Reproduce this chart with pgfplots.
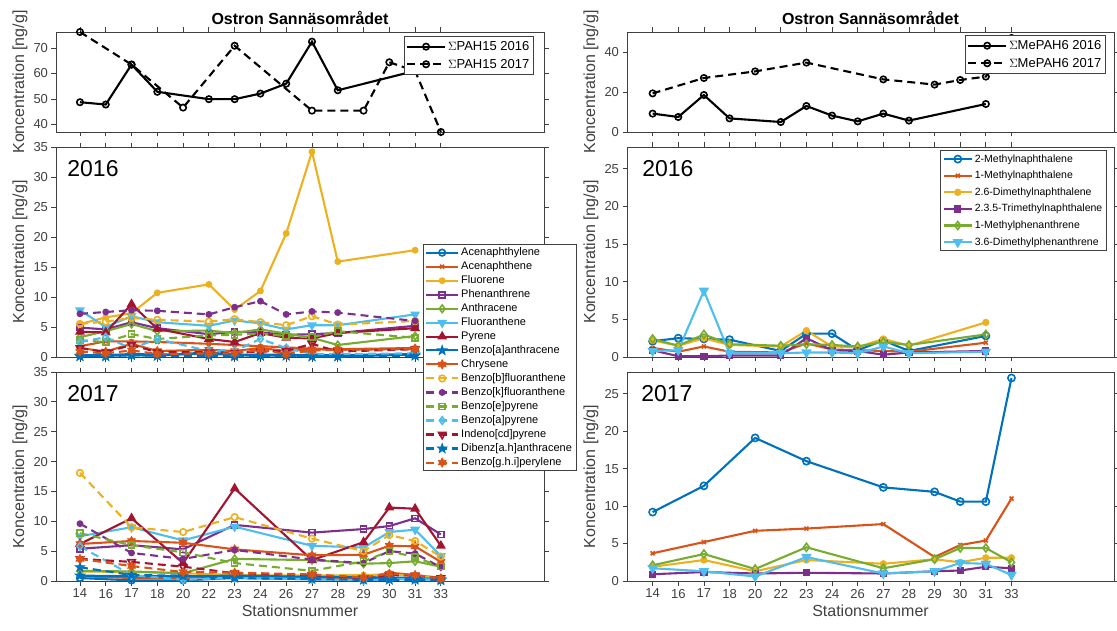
\documentclass[border=0pt]{standalone}
\usepackage{pgfplots}
\pgfplotsset{compat=1.18}
\usepackage{pgfplotstable}
\usepackage{fontspec}
\setmainfont{Liberation Sans}
\usetikzlibrary{plotmarks}

\definecolor{c1}{HTML}{0072BD}
\definecolor{c2}{HTML}{D95319}
\definecolor{c3}{HTML}{EDB120}
\definecolor{c4}{HTML}{7E2F8E}
\definecolor{c5}{HTML}{77AC30}
\definecolor{c6}{HTML}{4DBEEE}
\definecolor{c7}{HTML}{A2142F}
\definecolor{axc}{HTML}{404040}

\tikzset{mo/.style={solid, line width=1.6pt}, mot/.style={solid, line width=0.8pt}}

\pgfdeclareplotmark{pent}{%
  \pgfpathmoveto{\pgfpointpolar{90}{\pgfplotmarksize}}%
  \pgfpathlineto{\pgfpointpolar{126}{0.4\pgfplotmarksize}}%
  \pgfpathlineto{\pgfpointpolar{162}{\pgfplotmarksize}}%
  \pgfpathlineto{\pgfpointpolar{198}{0.4\pgfplotmarksize}}%
  \pgfpathlineto{\pgfpointpolar{234}{\pgfplotmarksize}}%
  \pgfpathlineto{\pgfpointpolar{270}{0.4\pgfplotmarksize}}%
  \pgfpathlineto{\pgfpointpolar{306}{\pgfplotmarksize}}%
  \pgfpathlineto{\pgfpointpolar{342}{0.4\pgfplotmarksize}}%
  \pgfpathlineto{\pgfpointpolar{18}{\pgfplotmarksize}}%
  \pgfpathlineto{\pgfpointpolar{54}{0.4\pgfplotmarksize}}%
  \pgfpathclose\pgfusepathqfillstroke}
\pgfdeclareplotmark{hexa}{%
  \pgfpathmoveto{\pgfpointpolar{90}{\pgfplotmarksize}}%
  \pgfpathlineto{\pgfpointpolar{120}{0.577\pgfplotmarksize}}%
  \pgfpathlineto{\pgfpointpolar{150}{\pgfplotmarksize}}%
  \pgfpathlineto{\pgfpointpolar{180}{0.577\pgfplotmarksize}}%
  \pgfpathlineto{\pgfpointpolar{210}{\pgfplotmarksize}}%
  \pgfpathlineto{\pgfpointpolar{240}{0.577\pgfplotmarksize}}%
  \pgfpathlineto{\pgfpointpolar{270}{\pgfplotmarksize}}%
  \pgfpathlineto{\pgfpointpolar{300}{0.577\pgfplotmarksize}}%
  \pgfpathlineto{\pgfpointpolar{330}{\pgfplotmarksize}}%
  \pgfpathlineto{\pgfpointpolar{0}{0.577\pgfplotmarksize}}%
  \pgfpathlineto{\pgfpointpolar{30}{\pgfplotmarksize}}%
  \pgfpathlineto{\pgfpointpolar{60}{0.577\pgfplotmarksize}}%
  \pgfpathclose\pgfusepathqfillstroke}

% ---------------- data ----------------
% x = station index: 0=14,1=16,2=17,3=18,4=20,5=22,6=23,7=24,8=26,9=27,10=28,11=29,12=30,13=31,14=33
\pgfplotstableread{
x  s1  s2  s3   s4   s5  s6  s7  s8  s9  s10 s11 s12 s13 s14 s15 s16
0  0.3 1.8 5.5  4.9  3.3 7.8 4.2 0.1 1.5 5.5 7.2 2.8 2.5 1.5 0.2 0.9
1  0.3 2.6 6.6  4.6  4.3 5.0 4.1 0.2 0.9 5.9 7.5 2.5 3.3 0.8 0.1 0.6
2  0.5 2.6 7.3  5.8  5.5 6.8 8.8 0.3 2.2 6.5 7.8 3.8 1.4 2.0 0.3 1.1
3  0.4 2.5 10.7 4.8  4.3 5.8 4.7 0.2 1.0 6.2 7.7 3.0 3.0 0.8 0.2 0.5
5  0.5 2.2 12.1 3.8  4.4 5.2 3.0 0.8 1.2 5.9 7.1 3.6 1.0 0.8 0.2 0.6
6  0.4 2.0 7.9  4.2  4.0 6.1 2.5 0.3 1.0 6.3 8.3 3.7 1.0 0.7 0.1 0.6
7  0.4 1.8 11.0 4.1  4.6 5.6 4.0 0.2 1.5 5.8 9.3 3.9 3.0 0.9 0.2 1.2
8  0.4 1.6 20.6 3.7  3.9 4.6 3.2 0.3 1.0 5.3 7.1 3.5 1.5 1.0 0.2 0.5
9  0.3 1.4 34.2 3.8  3.2 5.3 3.1 0.1 1.3 6.8 7.6 3.3 0.5 2.2 0.1 1.1
10 0.3 1.3 15.9 4.0  2.0 5.3 4.0 0.1 1.2 5.4 7.4 4.3 0.5 0.9 0.1 1.2
13 0.5 1.5 17.8 5.2  3.5 7.1 4.8 0.4 1.4 6.0 6.0 3.2 0.6 1.3 0.2 1.3
}\Lsixteen
\pgfplotstableread{
x  s1  s2  s3  s4   s5  s6  s7   s8  s9  s10  s11 s12 s13 s14 s15 s16
0  0.5 0.8 1.6 5.4  1.7 7.5 6.2  0.9 6.2 18.1 9.6 8.0 5.8 3.7 2.3 3.7
2  0.1 0.5 1.5 6.0  1.6 9.0 10.5 0.8 6.7 9.0  4.7 6.0 1.0 3.2 1.0 2.5
4  0.1 0.5 1.3 5.3  1.3 6.8 3.0  0.8 6.4 8.2  3.7 4.8 0.2 2.4 0.9 1.5
6  0.5 0.9 1.0 9.4  3.7 9.1 15.5 0.9 5.3 10.7 5.2 3.0 0.5 1.3 0.5 1.4
9  0.3 0.6 0.9 8.1  3.5 5.9 3.5  0.7 4.3 7.1  3.6 1.7 0.3 1.0 0.3 1.1
11 0.3 0.5 1.0 8.7  2.9 5.6 6.5  0.6 4.4 5.0  3.0 3.3 0.1 0.5 0.2 0.6
12 0.4 1.4 1.1 9.2  3.0 8.2 12.3 0.6 5.9 7.7  5.0 5.0 0.3 1.0 0.2 1.2
13 0.4 1.0 0.9 10.5 3.3 8.6 12.1 0.5 5.8 6.7  4.6 4.0 0.3 0.9 0.2 1.0
14 0.2 0.5 0.6 7.8  2.4 4.2 5.9  0.3 3.2 4.1  2.3 2.4 0.2 0.5 0.1 0.4
}\Lseventeen
\pgfplotstableread{
x  r1  r2  r3  r4  r5  r6
0  2.1 1.2 2.2 0.9 2.4 0.8
1  2.5 0.7 1.5 0.1 1.5 0.9
2  2.4 1.4 2.5 0.1 3.0 8.8
3  2.3 0.7 1.6 0.2 1.7 0.5
5  0.8 0.6 1.4 0.2 1.5 0.5
6  3.1 1.8 3.5 2.5 1.7 0.6
7  3.1 1.0 1.4 0.9 1.6 0.6
8  0.9 0.9 1.3 0.8 1.4 0.5
9  2.2 0.8 2.4 0.3 2.0 1.4
10 0.8 0.7 1.5 0.6 1.6 0.5
13 2.8 1.9 4.6 0.8 3.0 0.7
}\Rsixteen
\pgfplotstableread{
x  r1   r2   r3  r4  r5  r6
0  9.2  3.7  1.9 0.9 2.1 1.7
2  12.7 5.2  2.8 1.2 3.6 1.3
4  19.1 6.7  1.3 1.0 1.6 0.6
6  16.0 7.0  2.8 1.1 4.5 3.2
9  12.5 7.6  2.3 1.0 1.7 1.0
11 11.9 3.2  2.9 1.3 2.9 1.3
12 10.6 4.8  2.5 1.4 4.4 2.4
13 10.6 5.4  3.1 1.9 4.4 2.3
14 27.1 11.0 3.1 1.7 2.5 0.8
}\Rseventeen
\pgfplotstableread{
x  y
0  48.7
1  47.8
2  63.5
3  52.8
5  49.9
6  49.9
7  52.1
8  56.0
9  72.5
10 53.4
13 61.0
}\PAHsixteen
\pgfplotstableread{
x  y
0  76.3
2  63.5
4  46.6
6  70.9
9  45.4
11 45.4
12 64.4
13 61.0
14 37.0
}\PAHseventeen
\pgfplotstableread{
x  y
0  9.2
1  7.5
2  18.5
3  6.8
5  5.0
6  13.0
7  8.2
8  5.3
9  9.2
10 5.7
13 14.0
}\MeSixteen
\pgfplotstableread{
x  y
0  19.3
2  27.0
4  30.3
6  34.7
9  26.3
11 23.7
12 26.0
13 27.7
14 47.0
}\MeSeventeen

\pgfplotsset{
  base/.style={
    scale only axis, anchor=south west, clip=false,
    axis line style={axc, line width=0.8pt},
    every tick/.style={axc, line width=0.8pt},
    tick align=outside, major tick length=4.5pt,
    tick label style={font=\fontsize{13}{15}\selectfont, text=axc},
    label style={font=\fontsize{16}{18}\selectfont, text=axc},
    /pgf/number format/assume math mode=true,
    xtick={0,...,14}, xticklabels={},
    ylabel={Koncentration [ng/g]},
    title style={font=\fontsize{16}{18}\selectfont\bfseries, text=black, at={(0.5,1)}, anchor=south, yshift=0pt, inner sep=1pt},
    legend cell align=left,
  },
  leftcol/.style={base, width=488pt, xmin=-0.93, xmax=18,
    ylabel style={at={(axis description cs:-0.0738,0.5)}, anchor=center}},
  rightcol/.style={base, width=487pt, xmin=-1, xmax=18,
    ylabel style={at={(axis description cs:-0.0739,0.5)}, anchor=center}},
  bottomx/.style={xticklabels={14,16,17,18,20,22,23,24,26,27,28,29,30,31,33}, xlabel={Stationsnummer}},
  lw/.style={line width=2.1pt},
  dsh/.style={dash pattern=on 8pt off 5pt},
  L1/.style={lw, c1, mark=o, mark size=3.3pt, mark options={mo}},
  L2/.style={lw, c2, mark=x, mark size=2.8pt, mark options={mo}},
  L3/.style={lw, c3, mark=*, mark size=2.6pt, mark options={mo}},
  L4/.style={lw, c4, mark=square, mark size=3pt, mark options={mo}},
  L5/.style={lw, c5, mark=diamond, mark size=3.8pt, mark options={mo}},
  L6/.style={lw, c6, mark=triangle*, mark size=4.2pt, mark options={mo,rotate=180}},
  L7/.style={lw, c7, mark=triangle*, mark size=4.2pt, mark options={mo}},
  L8/.style={lw, c1, mark=pent, mark size=5pt, mark options={mot}},
  L9/.style={lw, c2, mark=hexa, mark size=4.5pt, mark options={mot}},
  L10/.style={lw, c3, dsh, mark=o, mark size=3.3pt, mark options={mo}},
  L11/.style={lw, c4, dsh, mark=*, mark size=2.6pt, mark options={mo}},
  L12/.style={lw, c5, dsh, mark=square, mark size=3pt, mark options={mo}},
  L13/.style={lw, c6, dsh, mark=diamond, mark size=3.8pt, mark options={mo}},
  L14/.style={lw, c7, dsh, mark=triangle, mark size=4.2pt, mark options={mo,rotate=180}},
  L15/.style={lw, c1, dsh, mark=pent, mark size=5pt, mark options={mot}},
  L16/.style={lw, c2, dsh, mark=hexa, mark size=4.5pt, mark options={mot}},
  R1/.style={lw, c1, mark=o, mark size=3.6pt, mark options={mo}},
  R2/.style={lw, c2, mark=x, mark size=2.8pt, mark options={mo}},
  R3/.style={lw, c3, mark=*, mark size=2.8pt, mark options={mo}},
  R4/.style={lw, c4, mark=square*, mark size=2.8pt, mark options={mo}},
  R5/.style={lw, c5, mark=diamond, mark size=4pt, mark options={mo}},
  R6/.style={lw, c6, mark=triangle*, mark size=4.5pt, mark options={mo,rotate=180}},
  T16/.style={lw, black, mark=o, mark size=3.2pt, mark options={mo}},
  T17/.style={lw, black, dsh, mark=o, mark size=3.2pt, mark options={mo}},
}

\begin{document}
\begin{tikzpicture}[x=1pt,y=1pt]
\useasboundingbox (0,0) rectangle (1117,630);

% ============ LEFT BOTTOM (2017) ============
\begin{axis}[leftcol, bottomx, at={(56pt,49pt)}, height=209pt,
  ymin=0, ymax=35, ytick={0,5,...,35}]
\addplot[L1] table[x=x,y=s1]{\Lseventeen};
\addplot[L2] table[x=x,y=s2]{\Lseventeen};
\addplot[L3] table[x=x,y=s3]{\Lseventeen};
\addplot[L4] table[x=x,y=s4]{\Lseventeen};
\addplot[L5] table[x=x,y=s5]{\Lseventeen};
\addplot[L6] table[x=x,y=s6]{\Lseventeen};
\addplot[L7] table[x=x,y=s7]{\Lseventeen};
\addplot[L8] table[x=x,y=s8]{\Lseventeen};
\addplot[L9] table[x=x,y=s9]{\Lseventeen};
\addplot[L10] table[x=x,y=s10]{\Lseventeen};
\addplot[L11] table[x=x,y=s11]{\Lseventeen};
\addplot[L12] table[x=x,y=s12]{\Lseventeen};
\addplot[L13] table[x=x,y=s13]{\Lseventeen};
\addplot[L14] table[x=x,y=s14]{\Lseventeen};
\addplot[L15] table[x=x,y=s15]{\Lseventeen};
\addplot[L16] table[x=x,y=s16]{\Lseventeen};
\node[anchor=north west, inner sep=0pt, font=\fontsize{23}{26}\selectfont] at (rel axis cs:0.023,0.935) {2017};
\end{axis}

% ============ LEFT MIDDLE (2016) ============
\begin{axis}[leftcol, at={(56pt,273pt)}, height=210pt,
  ymin=0, ymax=35, ytick={0,5,...,35},
  legend style={at={(axis description cs:0.7515,0.538)}, anchor=north west,
    font=\fontsize{11}{13}\selectfont, draw=axc, line width=0.8pt, fill=white,
    inner xsep=2pt, inner ysep=1.5pt, row sep=0.55pt},
  legend image code/.code={\draw[mark repeat=2,mark phase=2,#1] plot coordinates {(0pt,0pt) (16pt,0pt) (32pt,0pt)};}]
\addplot[L1] table[x=x,y=s1]{\Lsixteen};
\addplot[L2] table[x=x,y=s2]{\Lsixteen};
\addplot[L3] table[x=x,y=s3]{\Lsixteen};
\addplot[L4] table[x=x,y=s4]{\Lsixteen};
\addplot[L5] table[x=x,y=s5]{\Lsixteen};
\addplot[L6] table[x=x,y=s6]{\Lsixteen};
\addplot[L7] table[x=x,y=s7]{\Lsixteen};
\addplot[L8] table[x=x,y=s8]{\Lsixteen};
\addplot[L9] table[x=x,y=s9]{\Lsixteen};
\addplot[L10] table[x=x,y=s10]{\Lsixteen};
\addplot[L11] table[x=x,y=s11]{\Lsixteen};
\addplot[L12] table[x=x,y=s12]{\Lsixteen};
\addplot[L13] table[x=x,y=s13]{\Lsixteen};
\addplot[L14] table[x=x,y=s14]{\Lsixteen};
\addplot[L15] table[x=x,y=s15]{\Lsixteen};
\addplot[L16] table[x=x,y=s16]{\Lsixteen};
\legend{Acenaphthylene,Acenaphthene,Fluorene,Phenanthrene,Anthracene,Fluoranthene,Pyrene,Benzo[a]anthracene,Chrysene,Benzo[b]fluoranthene,Benzo[k]fluoranthene,Benzo[e]pyrene,Benzo[a]pyrene,Indeno[cd]pyrene,Dibenz[a.h]anthracene,Benzo[g.h.i]perylene}
\node[anchor=north west, inner sep=0pt, font=\fontsize{23}{26}\selectfont] at (rel axis cs:0.023,0.935) {2016};
\end{axis}

% ============ LEFT TOP ============
\begin{axis}[leftcol, at={(56pt,498pt)}, height=100pt,
  ymin=37, ymax=76.3, ytick={40,50,60,70},
  title={Ostron Sannäsområdet},
  legend style={at={(axis description cs:0.979,0.96)}, anchor=north east,
    font=\fontsize{13}{15}\selectfont, draw=axc, line width=0.8pt, fill=white,
    inner xsep=2pt, inner ysep=3pt, row sep=3pt},
  legend image code/.code={\draw[mark repeat=2,mark phase=2,#1] plot coordinates {(0pt,0pt) (19pt,0pt) (38pt,0pt)};}]
\addplot[T16] table[x=x,y=y]{\PAHsixteen};
\addplot[T17] table[x=x,y=y]{\PAHseventeen};
\legend{$\Sigma$PAH15 2016,$\Sigma$PAH15 2017}
\end{axis}

% ============ RIGHT BOTTOM (2017) ============
\begin{axis}[rightcol, bottomx, at={(627pt,49pt)}, height=209pt,
  ymin=0, ymax=27.9, ytick={0,5,...,25}]
\addplot[R1] table[x=x,y=r1]{\Rseventeen};
\addplot[R2] table[x=x,y=r2]{\Rseventeen};
\addplot[R3] table[x=x,y=r3]{\Rseventeen};
\addplot[R4] table[x=x,y=r4]{\Rseventeen};
\addplot[R5] table[x=x,y=r5]{\Rseventeen};
\addplot[R6] table[x=x,y=r6]{\Rseventeen};
\node[anchor=north west, inner sep=0pt, font=\fontsize{23}{26}\selectfont] at (rel axis cs:0.029,0.935) {2017};
\end{axis}

% ============ RIGHT MIDDLE (2016) ============
\begin{axis}[rightcol, at={(627pt,273pt)}, height=210pt,
  ymin=0, ymax=27.9, ytick={0,5,...,25},
  legend style={at={(axis description cs:0.985,0.985)}, anchor=north east,
    font=\fontsize{10.5}{12}\selectfont, draw=axc, line width=0.8pt, fill=white,
    inner xsep=2pt, inner ysep=2pt, row sep=3.5pt},
  legend image code/.code={\draw[mark repeat=2,mark phase=2,#1] plot coordinates {(0pt,0pt) (14pt,0pt) (28pt,0pt)};}]
\addplot[R1] table[x=x,y=r1]{\Rsixteen};
\addplot[R2] table[x=x,y=r2]{\Rsixteen};
\addplot[R3] table[x=x,y=r3]{\Rsixteen};
\addplot[R4] table[x=x,y=r4]{\Rsixteen};
\addplot[R5] table[x=x,y=r5]{\Rsixteen};
\addplot[R6] table[x=x,y=r6]{\Rsixteen};
\legend{2-Methylnaphthalene,1-Methylnaphthalene,2.6-Dimethylnaphthalene,2.3.5-Trimethylnaphthalene,1-Methylphenanthrene,3.6-Dimethylphenanthrene}
\node[anchor=north west, inner sep=0pt, font=\fontsize{23}{26}\selectfont] at (rel axis cs:0.031,0.935) {2016};
\end{axis}

% ============ RIGHT TOP ============
\begin{axis}[rightcol, at={(627pt,498pt)}, height=100pt,
  ymin=0, ymax=50, ytick={0,20,40},
  title={Ostron Sannäsområdet},
  legend style={at={(axis description cs:0.983,0.97)}, anchor=north east,
    font=\fontsize{13}{15}\selectfont, draw=axc, line width=0.8pt, fill=white,
    inner xsep=2pt, inner ysep=3pt, row sep=3pt},
  legend image code/.code={\draw[mark repeat=2,mark phase=2,#1] plot coordinates {(0pt,0pt) (19pt,0pt) (38pt,0pt)};}]
\addplot[T16] table[x=x,y=y]{\MeSixteen};
\addplot[T17] table[x=x,y=y]{\MeSeventeen};
\legend{$\Sigma$MePAH6 2016,$\Sigma$MePAH6 2017}
\end{axis}

\end{tikzpicture}
\end{document}
